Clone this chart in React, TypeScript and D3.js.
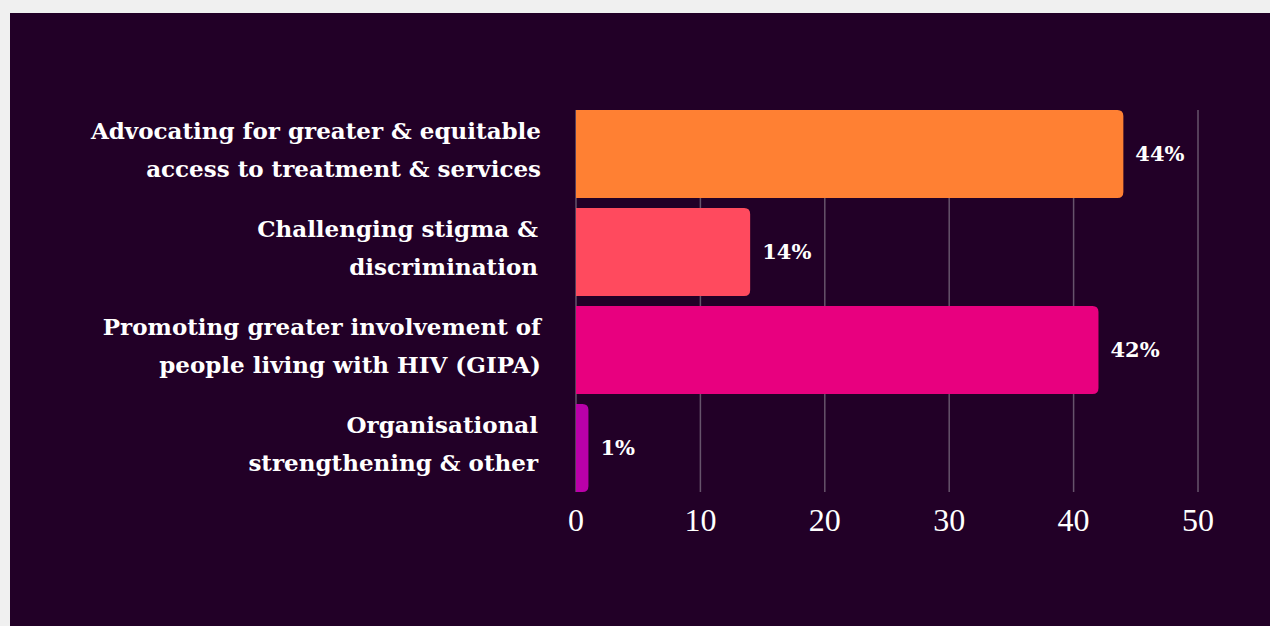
import React from "react";
import * as d3 from "d3";

const categories: string[][] = [
  ["Advocating for greater & equitable", "access to treatment & services"],
  ["Challenging stigma &", "discrimination"],
  ["Promoting greater involvement of", "people living with HIV (GIPA)"],
  ["Organisational", "strengthening & other"],
];
const values: number[] = [44, 14, 42, 1];
const valueLabels: string[] = ["44%", "14%", "42%", "1%"];
const barColors: string[] = ["#FF8033", "#FF4A5E", "#E8007F", "#BA00A9"];
const ticks: number[] = [0, 10, 20, 30, 40, 50];
const labelRight: number[] = [541, 538, 541, 538];

const W = 1270;
const H = 626;

export default function App() {
  const x = d3.scaleLinear().domain([0, 50]).range([576, 1198]);
  const y = d3
    .scaleBand<number>()
    .domain(d3.range(values.length))
    .range([110, 492])
    .paddingInner(10 / 98)
    .paddingOuter(0);
  const bh = y.bandwidth();
  const r = 6;
  const barPath = (i: number) => {
    const x0 = x(0);
    const x1 = x(values[i]);
    const y0 = y(i)!;
    const rr = Math.min(r, (x1 - x0) / 2);
    return `M${x0},${y0}H${x1 - rr}Q${x1},${y0} ${x1},${y0 + rr}V${y0 + bh - rr}Q${x1},${y0 + bh} ${x1 - rr},${y0 + bh}H${x0}Z`;
  };
  return (
    <svg
      width={W}
      height={H}
      style={{ position: "absolute", left: 0, top: 0, display: "block" }}
    >
      <rect x={0} y={0} width={W} height={H} fill="#f0f0f0" />
      <rect x={10} y={13} width={W - 10} height={H - 13} fill="#220027" />
      {ticks.map((t) => (
        <line
          key={t}
          x1={x(t)}
          x2={x(t)}
          y1={110}
          y2={492}
          stroke="#66536b"
          strokeWidth={1.5}
        />
      ))}
      {values.map((v, i) => (
        <path key={i} d={barPath(i)} fill={barColors[i]} />
      ))}
      {values.map((v, i) => (
        <text
          key={i}
          x={x(v) + 12}
          y={y(i)! + bh / 2 + 7}
          fill="#ffffff"
          fontFamily="'DejaVu Serif', serif"
          fontWeight="bold"
          fontSize={21}
        >
          {valueLabels[i]}
        </text>
      ))}
      {categories.map((lines, i) =>
        lines.map((line, j) => (
          <text
            key={`${i}-${j}`}
            x={labelRight[i]}
            y={y(i)! + bh / 2 + (j === 0 ? -15 : 23)}
            textAnchor="end"
            fill="#ffffff"
            fontFamily="'DejaVu Serif', serif"
            fontWeight="bold"
            fontSize={23}
          >
            {line}
          </text>
        ))
      )}
      {ticks.map((t) => (
        <text
          key={t}
          x={x(t)}
          y={531}
          textAnchor="middle"
          fill="#ffffff"
          fontFamily="'Liberation Serif', serif"
          fontSize={32}
        >
          {t}
        </text>
      ))}
    </svg>
  );
}
